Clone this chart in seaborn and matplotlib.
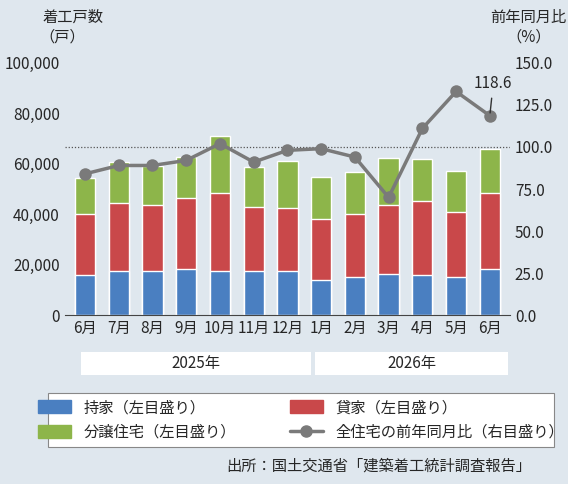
import matplotlib
matplotlib.use("Agg")
import matplotlib.pyplot as plt
import seaborn as sns
import pandas as pd
import numpy as np
from matplotlib.patches import Rectangle
from matplotlib.lines import Line2D

sns.set_style("white")
plt.rcParams['font.family'] = ['Noto Sans CJK JP', 'DejaVu Sans']

months = ["6月","7月","8月","9月","10月","11月","12月","1月","2月","3月","4月","5月","6月"]
mochiie = [15900,17500,17500,18300,17500,17500,17500,13900,15100,16300,15900,15100,18300]
kashiya = [24100,26900,26100,28100,30900,25400,25000,24200,25000,27300,29300,25800,30100]
bunjo = [14400,16300,15500,16300,22600,15800,18600,16700,16600,18700,16700,16200,17500]
yoy = [84,89,89,92,102,91,98,99,94,70,111,133,118.6]

df = pd.DataFrame({"idx": range(len(months)), "m": mochiie, "k": kashiya, "b": bunjo, "yoy": yoy})
df["mk"] = df.m + df.k
df["tot"] = df.mk + df.b

fig = plt.figure(figsize=(5.68, 4.84), dpi=100, facecolor="#dfe7ee")
ax = fig.add_axes([0.114, 0.349, 0.784, 0.521])
ax.set_facecolor("none")
c_m, c_k, c_b = "#4a7fc1", "#c9484a", "#8db54a"
for col, c in [("tot", c_b), ("mk", c_k), ("m", c_m)]:
    sns.barplot(data=df, x="idx", y=col, color=c, width=0.6, ax=ax, saturation=1)
ax.set_ylim(0, 100000)
ax.set_xlim(-0.6, 12.6)
ax.set_yticks(range(0, 100001, 20000))
ax.set_yticklabels([f"{v:,}" for v in range(0, 100001, 20000)], fontsize=11)
ax.set_xticks(range(13))
ax.set_xticklabels(months, fontsize=11)
ax.set_xlabel(""); ax.set_ylabel("")
ax.tick_params(length=0)
for s in ["top", "right", "left"]:
    ax.spines[s].set_visible(False)
ax.spines["bottom"].set_color("#444")

ax2 = ax.twinx()
ax2.set_ylim(0, 150)
ax2.axhline(100, color="#555", ls=(0, (1, 1.5)), lw=0.9)
sns.lineplot(data=df, x="idx", y="yoy", color="#7a7a7a", lw=2.5, marker="o", markersize=9,
             markeredgewidth=0, ax=ax2)
ax2.set_yticks(np.arange(0, 151, 25))
ax2.set_yticklabels([f"{v:.1f}" for v in np.arange(0, 151, 25)], fontsize=11)
ax2.set_ylabel(""); ax2.set_xlabel("")
ax2.tick_params(length=0)
for s in ["top", "right", "left", "bottom"]:
    ax2.spines[s].set_visible(False)
ax2.annotate("118.6", xy=(12, 118.6), xytext=(12.1, 135), fontsize=11, ha="center",
             arrowprops=dict(arrowstyle="-", color="#333", lw=1))

fig.text(0.075, 0.955, "着工戸数", fontsize=11, ha="left")
fig.text(0.11, 0.915, "（戸）", fontsize=11, ha="center")
fig.text(0.93, 0.955, "前年同月比", fontsize=11, ha="center")
fig.text(0.93, 0.915, "（%）", fontsize=11, ha="center")

def box(x0, x1, y0, y1, **kw):
    fig.add_artist(Rectangle((x0, y0), x1 - x0, y1 - y0, transform=fig.transFigure, **kw))
box(0.143, 0.548, 0.226, 0.272, facecolor="white", edgecolor="none")
box(0.555, 0.895, 0.226, 0.272, facecolor="white", edgecolor="none")
fig.text(0.345, 0.249, "2025年", fontsize=11, ha="center", va="center")
fig.text(0.725, 0.249, "2026年", fontsize=11, ha="center", va="center")

box(0.085, 0.975, 0.077, 0.188, facecolor="white", edgecolor="#888", lw=0.8)
h_m = Rectangle((0, 0), 1, 1, color=c_m)
h_k = Rectangle((0, 0), 1, 1, color=c_k)
h_b = Rectangle((0, 0), 1, 1, color=c_b)
h_l = Line2D([], [], color="#7a7a7a", lw=2.5, marker="o", markersize=8)
handles = [h_m, h_b, h_k, h_l]
labels = ["持家（左目盛り）", "分譲住宅（左目盛り）", "貸家（左目盛り）", "全住宅の前年同月比（右目盛り）"]
fig.legend(handles, labels, ncol=2, loc="center", bbox_to_anchor=(0.53, 0.1325), frameon=False,
           fontsize=11, columnspacing=3.5, handlelength=2.2, handleheight=0.9, labelspacing=0.5)
fig.text(0.935, 0.038, "出所：国土交通省「建築着工統計調査報告」", fontsize=11, ha="right", va="center")

fig.savefig("out.png", dpi=100, facecolor=fig.get_facecolor())
